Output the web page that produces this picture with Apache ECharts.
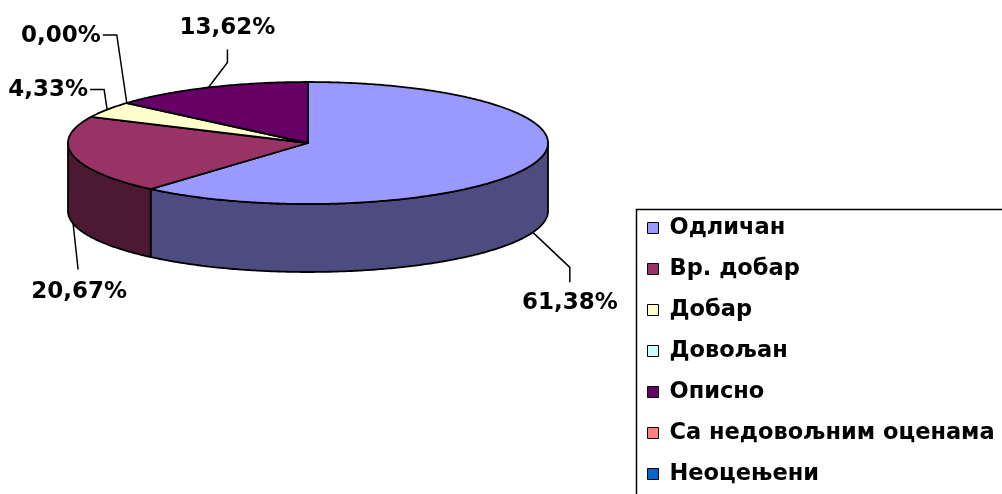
<!DOCTYPE html>
<html>
<head>
<meta charset="utf-8">
<script src="https://cdn.jsdelivr.net/npm/echarts@6/dist/echarts.min.js"></script>
<style>
  html, body { margin: 0; padding: 0; background: #fff; }
  #chart { width: 1002px; height: 494px; }
</style>
</head>
<body>
<div id="chart"></div>
<script>
const categories = ["Одличан", "Вр. добар", "Добар", "Довољан", "Описно", "Са недовољним оценама", "Неоцењени"];
const values = [61.38, 20.67, 4.33, 0.0, 13.62, null, null];
const topColors = ["#9999FF", "#993366", "#FFFFCC", "#CCFFFF", "#660066", "#FF8080", "#0066CC"];
const sideColors = ["#4C4C80", "#4C1933", "#808066", "#668080", "#330033", "#804040", "#003366"];

// tilted pie geometry
const CX = 308, CY = 143, RX = 240, RY = 61, DEPTH = 68;
// leader bends relative to rim point: [dx1, dy1, dx2, dy2], then text offset from leader end
const leaderBends = [[37, 35, 37, 50], [5, 46, 5, 46], [-3, -20, -17, -20], [-10, -68, -24, -68], [19, -25, 19, -38]];
const textPlacement = [[0, 21, "center"], [1, 23, "center"], [-2, 0, "right"], [-2, 1, "right"], [0, -21, "center"]];

const FONT = "DejaVu Sans";
const total = values.reduce((s, v) => s + (v || 0), 0);
const starts = [];
values.reduce((acc, v, i) => { starts[i] = acc; return acc + (v || 0); }, 0);

function rim(theta, dy) {
  return [CX + RX * Math.sin(theta), CY - RY * Math.cos(theta) + dy];
}
function arc(a, b, dy) {
  const pts = [];
  const n = Math.max(2, Math.ceil(Math.abs(b - a) / 0.01));
  for (let k = 0; k <= n; k++) pts.push(rim(a + (b - a) * k / n, dy));
  return pts;
}

function renderItem(params, api) {
  const i = params.dataIndex;
  const v = values[i];
  if (v === null || v === undefined) return null;
  const a = starts[i] / total * Math.PI * 2;
  const b = (starts[i] + v) / total * Math.PI * 2;
  const children = [];
  const stroke = { stroke: "#000", lineWidth: 1.8, lineJoin: "round" };

  // front wall
  const s = Math.max(a, Math.PI / 2), e = Math.min(b, Math.PI * 1.5);
  if (e > s) {
    const pts = arc(s, e, 0).concat(arc(e, s, DEPTH));
    children.push({ type: "polygon", z2: 1, shape: { points: pts },
      style: Object.assign({ fill: sideColors[i] }, stroke) });
  }
  // top face
  if (v > 0) {
    const pts = [[CX, CY]].concat(arc(a, b, 0));
    children.push({ type: "polygon", z2: 5, shape: { points: pts },
      style: Object.assign({ fill: topColors[i] }, stroke) });
  }
  // label with leader
  const mid = (a + b) / 2;
  const p = rim(mid, Math.cos(mid) < 0 ? DEPTH : 0);
  const bend = leaderBends[i];
  const e1 = [p[0] + bend[0], p[1] + bend[1]];
  const e2 = [p[0] + bend[2], p[1] + bend[3]];
  children.push({ type: "polyline", z2: 10, shape: { points: [p, e1, e2] },
    style: { stroke: "#000", lineWidth: 1.5, fill: null } });
  const tp = textPlacement[i];
  children.push({ type: "text", z2: 10, x: e2[0] + tp[0], y: e2[1] + tp[1],
    style: { text: v.toFixed(2).replace(".", ",") + "%", fontFamily: FONT, fontWeight: "bold",
      fontSize: 23, fill: "#000", align: tp[2], verticalAlign: "middle" } });
  return { type: "group", children: children };
}

const chart = echarts.init(document.getElementById("chart"));
chart.setOption({
  animation: false,
  backgroundColor: "#fff",
  // legend frame runs off the page like the original
  graphic: [{
    type: "rect", left: 634, top: 207, silent: true,
    shape: { width: 400, height: 320 },
    style: { fill: null, stroke: "#000", lineWidth: 1.5 }
  }],
  legend: {
    orient: "vertical",
    left: 634,
    top: 207,
    padding: [9, 0, 0, 13],
    itemWidth: 11,
    itemHeight: 11,
    itemGap: 17,
    icon: "rect",
    selectedMode: false,
    itemStyle: { borderColor: "#000", borderWidth: 1 },
    textStyle: { fontFamily: FONT, fontWeight: "bold", fontSize: 22.5, lineHeight: 24,
      color: "#000", padding: [0, 0, 0, 6] },
    data: categories
  },
  series: [
    {
      // carries the legend colours only
      type: "pie",
      radius: [0, 0],
      center: [-100, -100],
      silent: true,
      label: { show: false },
      labelLine: { show: false },
      data: categories.map((c, i) => ({ name: c, value: values[i] || 0, itemStyle: { color: topColors[i] } }))
    },
    {
      type: "custom",
      coordinateSystem: "none",
      silent: true,
      renderItem: renderItem,
      data: categories.map((c, i) => ({ name: c, value: values[i] }))
    }
  ]
});
</script>
</body>
</html>
